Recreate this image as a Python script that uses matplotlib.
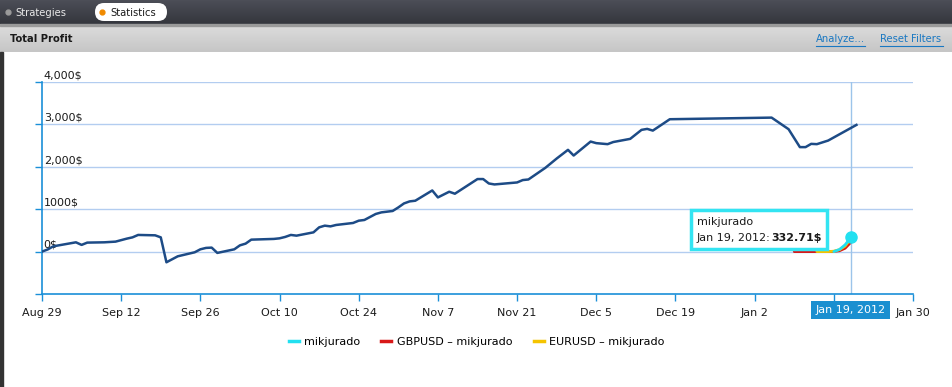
import matplotlib
matplotlib.use('Agg')
import matplotlib.pyplot as plt
import matplotlib.dates as mdates
from matplotlib.patches import Rectangle, FancyBboxPatch
import numpy as np
import pandas as pd

# データ（Aug 29 からの日数と損益）
start = pd.Timestamp('2011-08-29')
total_days = [0, 1, 2, 6, 7, 8, 11, 13, 15, 16, 17, 20, 21, 22, 24, 27, 28, 29, 30, 31,
              34, 35, 36, 37, 41, 42, 43, 44, 45, 48, 49, 50, 51, 52, 55, 56, 57, 59, 60, 62,
              63, 64, 65, 66, 69, 70, 72, 73, 77, 78, 79, 80, 84, 85, 86, 89, 91, 93, 94, 97,
              98, 100, 101, 104, 106, 107, 108, 111, 129, 132, 134, 135, 136, 137, 139, 144]
total_profit = [0, 50, 125, 219, 158, 212, 219, 235, 306, 336, 393, 384, 336, -252, -111, -16, 54, 87, 94, -31,
                54, 148, 188, 282, 299, 313, 346, 393, 376, 454, 572, 612, 595, 628, 675, 729, 746, 887, 925, 958,
                1042, 1136, 1184, 1200, 1442, 1278, 1412, 1365, 1711, 1711, 1607, 1584, 1631, 1687, 1701, 1976, 2195, 2400, 2266, 2595,
                2558, 2534, 2584, 2659, 2871, 2894, 2854, 3122, 3160, 2887, 2464, 2464, 2541, 2534, 2619, 2988]

gbp_days = [133, 137, 140, 141, 142, 143]
gbp_vals = [0, 0, 5, 20, 80, 220]
eur_days = [137, 139, 140, 141, 142, 143]
eur_vals = [0, 0, 10, 45, 130, 300]
mik_days = [140, 141, 142, 143]
mik_vals = [0, 50, 160, 332.71]

series_names = ['mikjurado', 'GBPUSD – mikjurado', 'EURUSD – mikjurado']
series_colors = ['#22e0f0', '#d81818', '#f5c400']

y_ticks = [0, 1000, 2000, 3000, 4000]
y_labels = ['0$', '1000$', '2,000$', '3,000$', '4,000$']
tick_days = list(range(0, 155, 14))

to_dates = lambda d: [start + pd.Timedelta(days=x) for x in d]

W, H = 953, 387
fig = plt.figure(figsize=(W / 100, H / 100), dpi=100)
fig.patch.set_facecolor('white')

# 背景（ヘッダー部分）
bg = fig.add_axes([0, 0, 1, 1], zorder=0)
bg.axis('off')
grad1 = np.linspace(0, 1, 24).reshape(-1, 1)
bg.imshow(grad1, extent=[0, W, 24, 0], cmap=matplotlib.colors.LinearSegmentedColormap.from_list('g1', ['#4c4e57', '#34363d']), aspect='auto')
grad2 = np.linspace(0, 1, 27).reshape(-1, 1)
bg.imshow(grad2, extent=[0, W, 52, 25], cmap=matplotlib.colors.LinearSegmentedColormap.from_list('g2', ['#dcdcdc', '#c6c6c6']), aspect='auto')
bg.add_patch(Rectangle((0, 24), W, 1.5, color='#9a9a9a'))
bg.add_patch(Rectangle((0, 52), 3, H - 52, color='#333333'))
bg.set_xlim(0, W)
bg.set_ylim(H, 0)

hdr = dict(fontsize=8, va='center', fontstretch='condensed')
bg.plot([8], [12], 'o', color='#9a9a9a', markersize=3.5)
bg.text(15, 12.5, 'Strategies', color='#e8e8e8', **hdr)
bg.add_patch(FancyBboxPatch((95, 3), 72, 18, boxstyle='round,pad=0,rounding_size=9', facecolor='white', edgecolor='none'))
bg.plot([102], [12], 'o', color='#f08a00', markersize=3.5)
bg.text(110, 12.5, 'Statistics', color='#1a1a1a', **hdr)
bg.text(10, 39, 'Total Profit', color='#1a1a1a', fontweight='bold', **hdr)
bg.text(816, 39, 'Analyze...', color='#1a78c2', **hdr)
bg.text(880, 39, 'Reset Filters', color='#1a78c2', **hdr)
bg.plot([816, 865], [46, 46], color='#1a78c2', lw=0.8)
bg.plot([880, 943], [46, 46], color='#1a78c2', lw=0.8)

# メインチャート
ax = fig.add_axes([42 / W, (H - 294) / H, 871 / W, 212 / H], zorder=2)
ax.patch.set_alpha(0)
ax.set_xlim(start, start + pd.Timedelta(days=154))
ax.set_ylim(-1000, 4000)

axis_blue = '#1a8fd8'
grid_blue = '#b3cdf0'
for y in y_ticks:
    ax.axhline(y, color=grid_blue, lw=1, zorder=1)
for y, lab in zip(y_ticks, y_labels):
    ax.text(0.002, y + 40, lab, transform=ax.get_yaxis_transform(), fontsize=8, color='#1a1a1a', va='bottom', ha='left')

ax.plot(to_dates(total_days), total_profit, color='#1d4b86', lw=1.8, zorder=3)
ax.plot(to_dates(gbp_days), gbp_vals, color=series_colors[1], lw=2, zorder=4, solid_capstyle='round')
ax.plot(to_dates(eur_days), eur_vals, color=series_colors[2], lw=2, zorder=5, solid_capstyle='round')
ax.plot(to_dates(mik_days), mik_vals, color=series_colors[0], lw=2, zorder=6, solid_capstyle='round')
hl_date = to_dates([mik_days[-1]])[0]
ax.plot([hl_date], [mik_vals[-1]], 'o', color=series_colors[0], markersize=8, zorder=7)
ax.axvline(hl_date, color='#9cc4ea', lw=1, zorder=2)

for side in ['top', 'right']:
    ax.spines[side].set_visible(False)
for side in ['left', 'bottom']:
    ax.spines[side].set_color(axis_blue)
    ax.spines[side].set_linewidth(1.2)
ax.set_yticks([-1000] + y_ticks)
ax.set_yticklabels([])
ax.tick_params(axis='y', length=5, color=axis_blue, width=1)
ax.set_xticks(to_dates(tick_days))
ax.set_xticklabels([d.strftime('%b %-d') if d != start + pd.Timedelta(days=140) else '' for d in to_dates(tick_days)])
ax.tick_params(axis='x', length=5, color=axis_blue, width=1, labelsize=8, pad=5, labelcolor='#1a1a1a')

# ハイライトされた日付ラベル
ax.annotate('Jan 19, 2012', xy=(hl_date, 0), xycoords=('data', 'axes fraction'),
            xytext=(0, -16), textcoords='offset pixels', ha='center', va='center',
            fontsize=8, color='white', zorder=8,
            bbox=dict(boxstyle='square,pad=0.4', facecolor='#1a8fd0', edgecolor='none'))

# ツールチップ
px, py = ax.transData.transform((mdates.date2num(hl_date), mik_vals[-1]))
bx, by = px, H - py
tip = fig.add_axes([0, 0, 1, 1], zorder=9)
tip.set_xlim(0, W)
tip.set_ylim(H, 0)
tip.axis('off')
tip.add_patch(Rectangle((bx - 160, by - 27), 136, 39, facecolor='white', edgecolor='#33e4f2', lw=2.5))
tip.text(bx - 154, by - 15, series_names[0], fontsize=8, color='#1a1a1a', va='center')
tip.text(bx - 154, by + 0.5, 'Jan 19, 2012:', fontsize=8, color='#1a1a1a', va='center')
tip.text(bx - 29, by + 0.5, '{:.2f}$'.format(mik_vals[-1]), fontsize=8, color='#1a1a1a', va='center',
         ha='right', fontweight='bold')

# 凡例
handles = [plt.Line2D([], [], color=c, lw=2.5) for c in series_colors]
fig.legend(handles, series_names, loc='center', bbox_to_anchor=(0.5, (H - 342) / H), ncol=3,
           frameon=False, fontsize=8, handlelength=0.9, handletextpad=0.5, columnspacing=1.9)

fig.savefig('out.png', dpi=100)
